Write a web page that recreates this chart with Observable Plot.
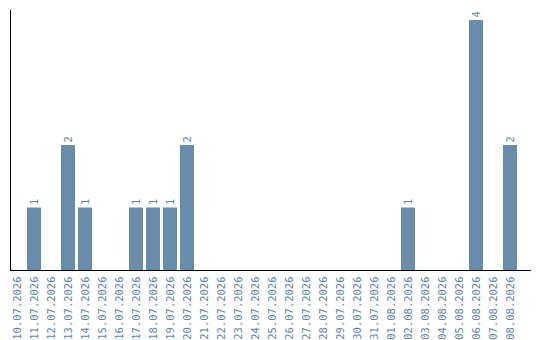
<!DOCTYPE html>
<html>
<head>
<meta charset="utf-8">
<script src="https://cdn.jsdelivr.net/npm/d3@7"></script>
<script src="https://cdn.jsdelivr.net/npm/@observablehq/plot@0.6"></script>
<style>
  html, body { margin: 0; padding: 0; background: #fff; }
  #chart svg { display: block; }
</style>
</head>
<body>
<div id="chart"></div>
<script>
// Daily counts, 10.07.2026 – 08.08.2026
const dates = [
  "10.07.2026", "11.07.2026", "12.07.2026", "13.07.2026", "14.07.2026",
  "15.07.2026", "16.07.2026", "17.07.2026", "18.07.2026", "19.07.2026",
  "20.07.2026", "21.07.2026", "22.07.2026", "23.07.2026", "24.07.2026",
  "25.07.2026", "26.07.2026", "27.07.2026", "28.07.2026", "29.07.2026",
  "30.07.2026", "31.07.2026", "01.08.2026", "02.08.2026", "03.08.2026",
  "04.08.2026", "05.08.2026", "06.08.2026", "07.08.2026", "08.08.2026"
];
const counts = [
  0, 1, 0, 2, 1,
  0, 0, 1, 1, 1,
  2, 0, 0, 0, 0,
  0, 0, 0, 0, 0,
  0, 0, 0, 1, 0,
  0, 0, 4, 0, 2
];

const barColor = "#6a8cab";
const textColor = "#5f84ab";

const rows = dates.map((date, i) => ({date, count: counts[i]}));
const labelled = rows.filter(d => d.count > 0);

const chart = Plot.plot({
  width: 540,
  height: 340,
  marginTop: 10,
  marginBottom: 70,
  marginLeft: 10,
  marginRight: 9,
  style: {fontFamily: "'DejaVu Sans Mono', monospace", fontSize: "10.5px", background: "#fff"},
  x: {domain: dates, paddingInner: 0.176, paddingOuter: 0.41, align: 0, axis: null},
  y: {domain: [0, 4.16], axis: null},
  marks: [
    Plot.barY(rows, {x: "date", y: "count", fill: barColor}),
    Plot.text(labelled, {
      x: "date", y: "count", text: d => String(d.count),
      rotate: -90, textAnchor: "start", dy: -3, fill: textColor, fontSize: 10.5
    }),
    Plot.axisX({
      tickRotate: -90, tickSize: 0, tickPadding: 6, label: null,
      fill: textColor, fontSize: 10.5
    }),
    Plot.ruleY([0], {stroke: "#000", strokeWidth: 1}),
    Plot.frame({anchor: "left", stroke: "#000", strokeWidth: 1})
  ]
});

document.getElementById("chart").appendChild(chart);
</script>
</body>
</html>
